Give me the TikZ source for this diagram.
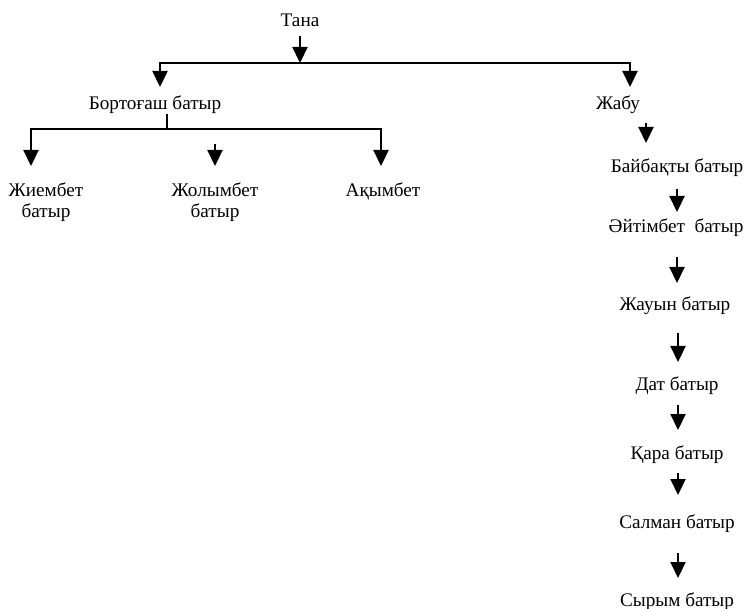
\documentclass[tikz,border=0pt]{standalone}
\usepackage{fontspec}
\setmainfont{Liberation Serif}
\usetikzlibrary{arrows.meta}

\tikzset{
    person/.style={anchor=base, inner sep=0pt, align=center, font=\fontsize{19.2}{21}\selectfont},
    arr/.style={-{Triangle[width=15pt,length=16pt]}, line width=2.2pt},
}

\begin{document}
\begin{tikzpicture}[x=1pt, y=-1pt]
                \useasboundingbox (0,0) rectangle (744,609);

                \node[person] (tana) at (300,27) {Тана};
                \node[person] (bort) at (155,110) {Бортоғаш батыр};
                \node[person] (zhabu) at (618,110) {Жабу};
                \node[person] (zhiem) at (46,218) {Жиембет\\батыр};
                \node[person] (zholym) at (215,218) {Жолымбет\\батыр};
                \node[person] (aqym) at (383,197) {Ақымбет};
                \node[person] (baib) at (677,173) {Байбақты батыр};
                \node[person] (ait) at (676,233) {Әйтімбет\ \ батыр};
                \node[person] (zhauyn) at (675,311) {Жауын батыр};
                \node[person] (dat) at (677,391) {Дат батыр};
                \node[person] (qara) at (677,459) {Қара батыр};
                \node[person] (salman) at (677,528) {Салман батыр};
                \node[person] (syrym) at (677,606) {Сырым батыр};

                \coordinate (tbar) at (300,63);
                \coordinate (tbort) at (160,87);
                \coordinate (tzhabu) at (630,87);
                \coordinate (bbar) at (167,129);
                \coordinate (bzhiem) at (31,166);
                \coordinate (baqym) at (381,166);

                \draw[arr] ([yshift=-9pt]tana.south) -- (tbar);
                \draw[arr] (tbar) -| (tbort);
                \draw[arr] (tbar) -| (tzhabu);
                \draw[line width=2.2pt] (bort.south -| bbar) -- (bbar);
                \draw[arr] (bbar) -| (bzhiem);
                \draw[arr] (bbar) -| (baqym);

                \foreach \n/\x/\ya/\yb in {zholym/215/144/166, zhabu/646/123/143, baib/677/189/212, ait/677/257/283,
                        zhauyn/678/333/362, dat/678/405/430, qara/678/473/495, salman/678/553/578} {
                    \coordinate (\n s) at (\x,\ya);
                    \coordinate (\n e) at (\x,\yb);
                    \draw[arr] (\n s) -- (\n e);
                }
            \end{tikzpicture}
\end{document}
